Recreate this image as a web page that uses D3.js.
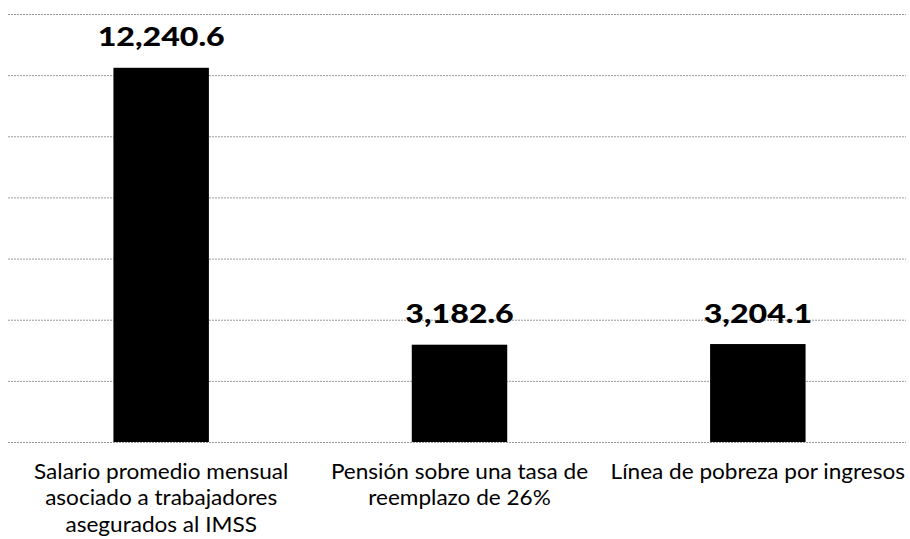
<!DOCTYPE html>
<html><head><meta charset="utf-8">
<script src="https://cdn.jsdelivr.net/npm/d3@7"></script>
<style>body{margin:0;background:#fff}svg{display:block}</style>
</head><body>
<script>
const categories = [
  ["Salario promedio mensual","asociado a trabajadores","asegurados al IMSS"],
  ["Pensión sobre una tasa de","reemplazo de 26%"],
  ["Línea de pobreza por ingresos"]
];
const values = [12240.6, 3182.6, 3204.1];
const labels = ["12,240.6", "3,182.6", "3,204.1"];
const yTicks = [0, 2000, 4000, 6000, 8000, 10000, 12000, 14000];

const W = 910, H = 539;
const svg = d3.select("body").append("svg").attr("width", W).attr("height", H);

const x = d3.scaleBand().domain(d3.range(values.length)).range([12, 907]).paddingInner(0.68).paddingOuter(0.34);
const y = d3.scaleLinear().domain([0, 14000]).range([442, 14]);

svg.append("g").selectAll("line").data(yTicks).join("line")
  .attr("x1", 8).attr("x2", 906)
  .attr("y1", d => y(d) + 0.5).attr("y2", d => y(d) + 0.5)
  .attr("stroke", "#9a9a9a").attr("stroke-width", 1)
  .attr("stroke-dasharray", "2,1");

svg.append("g").selectAll("rect").data(values).join("rect")
  .attr("x", (d, i) => x(i)).attr("width", x.bandwidth())
  .attr("y", d => y(d)).attr("height", d => y(0) - y(d))
  .attr("fill", "#000");

svg.append("g").selectAll("text").data(values).join("text")
  .attr("transform", (d, i) => `translate(${x(i) + x.bandwidth() / 2},${y(d) - 21.5}) scale(1.19,1)`)
  .attr("text-anchor", "middle")
  .attr("font-family", "Lato, 'Open Sans', sans-serif")
  .attr("font-weight", "900")
  .attr("font-size", 27)
  .attr("fill", "#000")
  .text((d, i) => labels[i]);

const cat = svg.append("g").selectAll("text").data(categories).join("text")
  .attr("transform", (d, i) => `translate(${x(i) + x.bandwidth() / 2},479) scale(1.05,1)`)
  .attr("text-anchor", "middle")
  .attr("font-family", "Lato, 'Open Sans', sans-serif")
  .attr("font-size", 21.5)
  .attr("fill", "#000");
cat.selectAll("tspan").data(d => d).join("tspan")
  .attr("x", 0)
  .attr("dy", (d, j) => j === 0 ? 0 : 26.5)
  .text(d => d);
</script>
</body></html>
